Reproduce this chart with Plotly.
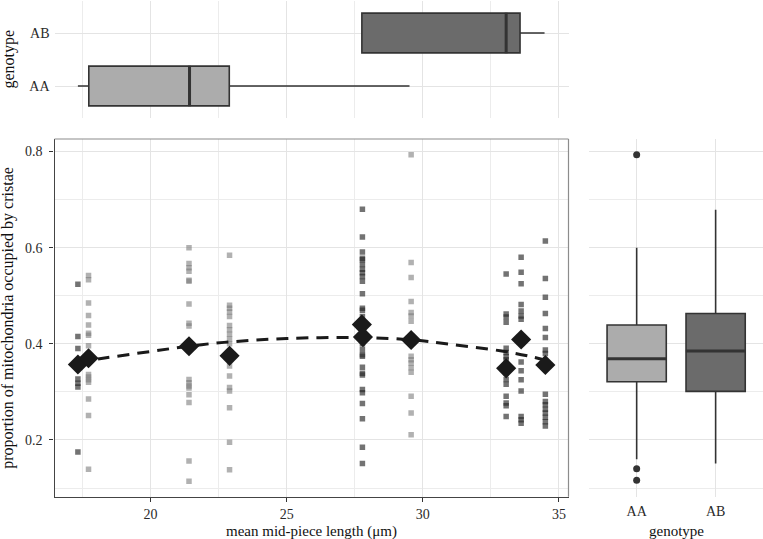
import plotly.graph_objects as go

# ---------------- data ----------------
# individual columns: mean mid-piece length, shade, cristae proportions
col_x = [17.33, 17.72, 21.41, 22.90, 27.78, 29.57, 33.06, 33.61, 34.50]
col_shade = ["dark", "light", "light", "light", "dark", "light", "dark", "dark", "dark"]
col_y = [
    [0.524, 0.415, 0.390, 0.360, 0.327, 0.318, 0.310, 0.175],
    [0.542, 0.533, 0.485, 0.459, 0.439, 0.422, 0.418, 0.396, 0.372, 0.362,
     0.336, 0.331, 0.325, 0.320, 0.285, 0.251, 0.139],
    [0.600, 0.567, 0.558, 0.551, 0.532, 0.530, 0.483, 0.443, 0.437, 0.393,
     0.326, 0.319, 0.312, 0.308, 0.294, 0.278, 0.156, 0.114],
    [0.584, 0.480, 0.474, 0.466, 0.457, 0.438, 0.429, 0.420, 0.410, 0.400,
     0.372, 0.354, 0.333, 0.309, 0.302, 0.267, 0.195, 0.138],
    [0.680, 0.622, 0.591, 0.578, 0.575, 0.565, 0.555, 0.548, 0.540, 0.530,
     0.504, 0.474, 0.470, 0.457, 0.430, 0.420, 0.410, 0.400, 0.388, 0.377,
     0.374, 0.351, 0.339, 0.335, 0.305, 0.298, 0.276, 0.244, 0.185, 0.151],
    [0.793, 0.569, 0.538, 0.488, 0.465, 0.458, 0.447, 0.374, 0.367, 0.360,
     0.350, 0.341, 0.291, 0.256, 0.211],
    [0.545, 0.462, 0.456, 0.445, 0.391, 0.382, 0.373, 0.367, 0.340, 0.326,
     0.316, 0.291, 0.277, 0.271, 0.249],
    [0.580, 0.549, 0.525, 0.482, 0.468, 0.458, 0.451, 0.362, 0.344, 0.325,
     0.302, 0.249, 0.242, 0.235],
    [0.614, 0.536, 0.497, 0.463, 0.432, 0.413, 0.387, 0.380, 0.295, 0.280,
     0.273, 0.264, 0.256, 0.247, 0.238, 0.229],
]

# per-individual means (diamonds)
mean_x = [17.33, 17.72, 21.41, 22.90, 27.76, 27.80, 29.57, 33.06, 33.61, 34.50]
mean_y = [0.357, 0.370, 0.395, 0.375, 0.440, 0.414, 0.408, 0.349, 0.409, 0.356]

# fitted curve (dashed), read at several x positions
fit_x = [17.33, 18.25, 20.0, 21.4, 22.7, 25.0, 27.8, 29.6, 31.0, 32.9, 34.0, 34.5]
fit_y = [0.362, 0.370, 0.384, 0.395, 0.403, 0.411, 0.413, 0.408, 0.399, 0.385, 0.373, 0.366]

genotypes = ["AA", "AB"]
# top marginal boxplot: mid-piece length by genotype
len_low = [17.33, 27.76]
len_q1 = [17.73, 27.76]
len_med = [21.43, 33.06]
len_q3 = [22.89, 33.57]
len_high = [29.51, 34.47]

# right marginal boxplot: cristae proportion by genotype
pr_low = [0.160, 0.151]
pr_q1 = [0.321, 0.301]
pr_med = [0.369, 0.385]
pr_q3 = [0.439, 0.463]
pr_high = [0.600, 0.679]
out_geno = ["AA", "AA", "AA"]
out_val = [0.793, 0.140, 0.116]

x_ticks = [20, 25, 30, 35]
y_ticks = [0.2, 0.4, 0.6, 0.8]

# ---------------- styles ----------------
FONT = "Liberation Serif, Times New Roman, serif"
box_fill = {"AA": "#acacac", "AB": "#6b6b6b"}
pt_color = {"dark": "rgba(40,40,40,0.65)", "light": "rgba(120,120,120,0.58)"}
GRID = "#e4e4e4"
MINOR = "#ececec"

W, H = 763, 539
main_x = [54.5 / W, 568.5 / W]
main_y = [(H - 496.7) / H, (H - 139) / H]
right_x = [589.3 / W, 1.0]
top_y = [(H - 117.8) / H, (H - 1.2) / H]

fig = go.Figure()

# scatter points
for xv, shade, ys in zip(col_x, col_shade, col_y):
    fig.add_trace(go.Scatter(
        x=[xv] * len(ys), y=ys, mode="markers",
        marker=dict(symbol="square", size=5.5, color=pt_color[shade], line=dict(width=0)),
        xaxis="x", yaxis="y", showlegend=False, hoverinfo="skip"))

# fitted dashed curve
fig.add_trace(go.Scatter(
    x=fit_x, y=fit_y, mode="lines", line=dict(color="#1a1a1a", width=3, dash="12px,8px", shape="spline"),
    xaxis="x", yaxis="y", showlegend=False, hoverinfo="skip"))

# means
fig.add_trace(go.Scatter(
    x=mean_x, y=mean_y, mode="markers",
    marker=dict(symbol="diamond", size=15.5, color="#1a1a1a", line=dict(width=0)),
    xaxis="x", yaxis="y", showlegend=False, hoverinfo="skip"))

# right boxplots
for i, g in enumerate(genotypes):
    fig.add_trace(go.Box(
        x=[g], q1=[pr_q1[i]], median=[pr_med[i]], q3=[pr_q3[i]],
        lowerfence=[pr_low[i]], upperfence=[pr_high[i]],
        fillcolor=box_fill[g], line=dict(color="#333333", width=1.6),
        width=0.75, whiskerwidth=0, boxpoints=False,
        xaxis="x2", yaxis="y2", showlegend=False, hoverinfo="skip"))
fig.add_trace(go.Scatter(
    x=genotypes, y=pr_med, mode="markers",
    marker=dict(symbol="line-ew", size=42.5, line=dict(color="#333333", width=3)),
    xaxis="x2", yaxis="y2", showlegend=False, hoverinfo="skip"))
fig.add_trace(go.Scatter(
    x=out_geno, y=out_val, mode="markers",
    marker=dict(symbol="circle", size=7, color="#333333"),
    xaxis="x2", yaxis="y2", showlegend=False, hoverinfo="skip"))

# top boxplots (horizontal)
for i, g in enumerate(genotypes):
    fig.add_trace(go.Box(
        y=[g], q1=[len_q1[i]], median=[len_med[i]], q3=[len_q3[i]],
        lowerfence=[len_low[i]], upperfence=[len_high[i]], orientation="h",
        fillcolor=box_fill[g], line=dict(color="#333333", width=1.6),
        width=0.75, whiskerwidth=0, boxpoints=False,
        xaxis="x3", yaxis="y3", showlegend=False, hoverinfo="skip"))
fig.add_trace(go.Scatter(
    x=len_med, y=genotypes, mode="markers",
    marker=dict(symbol="line-ns", size=29, line=dict(color="#333333", width=3)),
    xaxis="x3", yaxis="y3", showlegend=False, hoverinfo="skip"))

tickfont = dict(family=FONT, size=14, color="#2a2a2a")
xrange = [16.47, 35.35]
yrange = [0.082, 0.826]

fig.update_layout(
    width=W, height=H, margin=dict(l=0, r=0, t=0, b=0),
    paper_bgcolor="white", plot_bgcolor="white",
    font=dict(family=FONT, color="#1a1a1a"),
    xaxis=dict(domain=main_x, range=xrange, tickvals=x_ticks, ticks="outside", ticklen=4,
               tickcolor="#333333", showline=True, linecolor="#444444", linewidth=1.2,
               showgrid=True, gridcolor=GRID, gridwidth=1.1, zeroline=False,
               minor=dict(dtick=2.5, tick0=0, showgrid=True, gridcolor=MINOR, gridwidth=0.9),
               tickfont=tickfont, anchor="y", ticklabelstandoff=0),
    yaxis=dict(domain=main_y, range=yrange, tickvals=y_ticks, ticktext=["0.2", "0.4", "0.6", "0.8"],
               ticks="outside", ticklen=4, tickcolor="#333333", showline=True, linecolor="#444444",
               linewidth=1.2, showgrid=True, gridcolor=GRID, gridwidth=1.1, zeroline=False,
               minor=dict(dtick=0.1, tick0=0, showgrid=True, gridcolor=MINOR, gridwidth=0.9),
               tickfont=tickfont, anchor="x", ticklabelstandoff=4),
    xaxis2=dict(domain=right_x, type="category", categoryorder="array", categoryarray=genotypes,
                range=[-0.6, 1.6], showgrid=True, gridcolor=GRID, gridwidth=1.1, zeroline=False,
                showline=False, ticks="", tickfont=tickfont, anchor="y2", ticklabelstandoff=4),
    yaxis2=dict(domain=main_y, range=yrange, tickvals=y_ticks, showticklabels=False,
                showgrid=True, gridcolor=GRID, gridwidth=1.1, zeroline=False, showline=False,
                minor=dict(dtick=0.1, tick0=0, showgrid=True, gridcolor=MINOR, gridwidth=0.9),
                anchor="x2"),
    xaxis3=dict(domain=main_x, range=xrange, tickvals=x_ticks, showticklabels=False,
                showgrid=True, gridcolor=GRID, gridwidth=1.1, zeroline=False, showline=False,
                minor=dict(dtick=2.5, tick0=0, showgrid=True, gridcolor=MINOR, gridwidth=0.9),
                anchor="y3"),
    yaxis3=dict(domain=top_y, type="category", categoryorder="array", categoryarray=genotypes,
                range=[-0.6, 1.6], showgrid=True, gridcolor=GRID, gridwidth=1.1, zeroline=False,
                showline=False, ticks="", tickfont=tickfont, anchor="x3", ticklabelstandoff=4),
    shapes=[
        dict(type="line", xref="x domain", yref="y domain", x0=0, x1=1, y0=1, y1=1,
             line=dict(color="#8c8c8c", width=1.2)),
        dict(type="line", xref="x domain", yref="y domain", x0=1, x1=1, y0=0, y1=1,
             line=dict(color="#8c8c8c", width=1.2)),
    ],
    annotations=[
        dict(text="proportion of mitochondria occupied by cristae", xref="paper", yref="paper",
             x=8 / W, y=(main_y[0] + main_y[1]) / 2, textangle=-90, showarrow=False,
             xanchor="center", yanchor="middle", font=dict(family=FONT, size=16, color="#111111")),
        dict(text="mean mid-piece length (\u03bcm)", xref="paper", yref="paper",
             x=(main_x[0] + main_x[1]) / 2, y=(H - 531) / H, showarrow=False,
             xanchor="center", yanchor="middle", font=dict(family=FONT, size=15, color="#111111")),
        dict(text="genotype", xref="paper", yref="paper",
             x=(right_x[0] + right_x[1]) / 2, y=(H - 531) / H, showarrow=False,
             xanchor="center", yanchor="middle", font=dict(family=FONT, size=15, color="#111111")),
        dict(text="genotype", xref="paper", yref="paper",
             x=8 / W, y=(top_y[0] + top_y[1]) / 2, textangle=-90, showarrow=False,
             xanchor="center", yanchor="middle", font=dict(family=FONT, size=16, color="#111111")),
    ],
)

fig.write_html("out.html", post_script="document.body.style.margin='0';",
               config={"displayModeBar": False})
